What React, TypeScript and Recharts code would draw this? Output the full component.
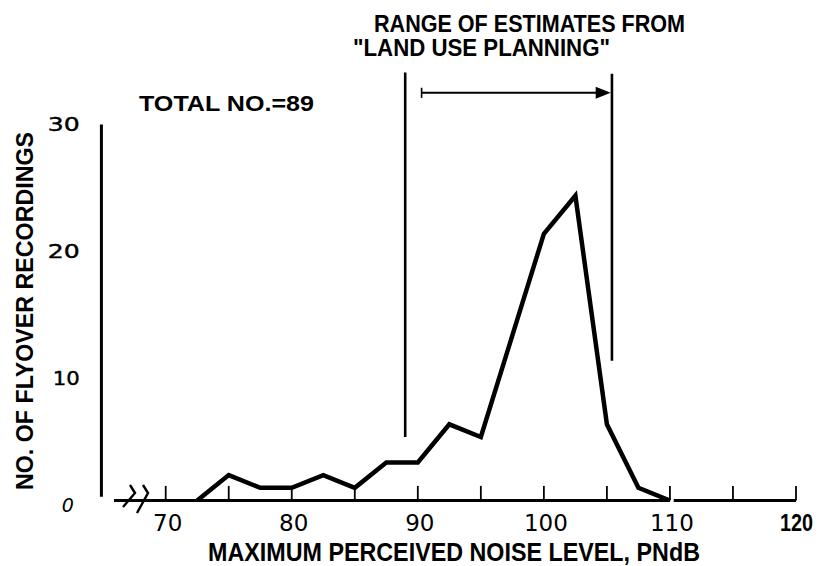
import React from 'react';
import { ComposedChart, Line, XAxis, YAxis, ReferenceLine, ReferenceDot } from 'recharts';

// noise level classes (PNdB) and number of flyover recordings in each
const levels = [72.5, 75, 77.5, 80, 82.5, 85, 87.5, 90, 92.5, 95, 97.5, 100, 102.5, 105, 107.5, 110];
const counts = [0, 2, 1, 1, 2, 1, 3, 3, 6, 5, 13, 21, 24, 6, 1, 0];

const xLabelTicks = [70, 80, 90, 100, 110, 120];
const xTickMarks = [70, 75, 80, 85, 90, 95, 100, 105, 110, 115, 120];
const yLabelTicks = [0, 10, 20, 30];

// "range of estimates" bracket: [level, bottom, top]
const rangeLow = [89, 5, 33.7];
const rangeHigh = [105.4, 11, 33.6];
// arrow across the range: [from, to, height]
const rangeArrow = [90.3, 105.3, 32.1];

// broken x axis pieces and the y axis
const xAxisPieces = [
  [65.9, 110],
  [110.3, 120],
];
const yAxisAt = 64.9;
const yAxisSpan = [0.3, 29.6];

const FONT = '"Liberation Sans", Arial, Helvetica, sans-serif';
const DIGITS = '"DejaVu Sans", sans-serif';
const data = levels.map((level, i) => ({ level, count: counts[i] }));

const XTick = (props: any) => {
  const { x, y, payload } = props;
  const v = payload.value;
  if (v === 120) {
    return (
      <text x={x - 16} y={y + 30} fontFamily={FONT} fontWeight="bold" fontSize={24}
        textLength={33} lengthAdjust="spacingAndGlyphs" fill="#000">
        {v}
      </text>
    );
  }
  return (
    <text x={x + 2} y={y + 30} textAnchor="middle" fontFamily={DIGITS} fontSize={23} fill="#000">
      {v}
    </text>
  );
};

const YTick = (props: any) => {
  const { x, y, payload } = props;
  const v = payload.value;
  if (v === 0) {
    return (
      <text x={x + 3} y={y + 11} textAnchor="middle" fontFamily={DIGITS} fontStyle="italic" fontSize={19} fill="#000">
        0
      </text>
    );
  }
  const w = v === 10 ? 27 : 32;
  return (
    <text x={x + 15 - w} y={y + 11} fontFamily={DIGITS} fontSize={19}
      textLength={w} lengthAdjust="spacingAndGlyphs" fill="#000" stroke="#000" strokeWidth={0.4}>
      {v}
    </text>
  );
};

const ArrowHead = (props: any) => {
  const { cx, cy } = props;
  return <polygon points={`${cx},${cy} ${cx - 15},${cy - 6} ${cx - 15},${cy + 6}`} fill="#000" />;
};

export default function App() {
  return (
    <div style={{ position: 'absolute', left: 0, top: 0, width: 822, height: 566, background: '#fff' }}>
      <ComposedChart
        width={822}
        height={566}
        data={data}
        margin={{ top: 43.3, right: 0.8, left: 0, bottom: 0 }}
      >
        <XAxis
          dataKey="level"
          type="number"
          domain={[62, 122]}
          allowDataOverflow
          ticks={xLabelTicks}
          tick={<XTick />}
          axisLine={false}
          tickLine={false}
          tickSize={0}
          tickMargin={0}
          height={65.5}
        />
        <YAxis
          type="number"
          domain={[0, 36]}
          allowDataOverflow
          ticks={yLabelTicks}
          tick={<YTick />}
          axisLine={false}
          tickLine={false}
          tickSize={0}
          tickMargin={0}
          width={64.85}
        />

        {xAxisPieces.map(([a, b], i) => (
          <ReferenceLine key={'ax' + i} segment={[{ x: a, y: 0 }, { x: b, y: 0 }]} stroke="#000" strokeWidth={3} ifOverflow="visible" />
        ))}
        <ReferenceLine
          segment={[{ x: yAxisAt, y: yAxisSpan[0] }, { x: yAxisAt, y: yAxisSpan[1] }]}
          stroke="#000"
          strokeWidth={3}
          ifOverflow="visible"
        />
        {xTickMarks.map((t) => (
          <ReferenceLine key={'t' + t} segment={[{ x: t, y: 0 }, { x: t, y: 1.15 }]} stroke="#000" strokeWidth={1.8} ifOverflow="visible" />
        ))}

        <ReferenceLine
          segment={[{ x: rangeLow[0], y: rangeLow[1] }, { x: rangeLow[0], y: rangeLow[2] }]}
          stroke="#000"
          strokeWidth={2.6}
          ifOverflow="visible"
        />
        <ReferenceLine
          segment={[{ x: rangeHigh[0], y: rangeHigh[1] }, { x: rangeHigh[0], y: rangeHigh[2] }]}
          stroke="#000"
          strokeWidth={2.6}
          ifOverflow="visible"
        />
        <ReferenceLine
          segment={[{ x: rangeArrow[0], y: rangeArrow[2] }, { x: rangeArrow[1] - 1, y: rangeArrow[2] }]}
          stroke="#000"
          strokeWidth={2}
          ifOverflow="visible"
        />
        <ReferenceLine
          segment={[{ x: rangeArrow[0], y: rangeArrow[2] - 0.4 }, { x: rangeArrow[0], y: rangeArrow[2] + 0.4 }]}
          stroke="#000"
          strokeWidth={1.6}
          ifOverflow="visible"
        />
        <ReferenceDot x={rangeArrow[1]} y={rangeArrow[2]} r={6} shape={<ArrowHead />} ifOverflow="visible" />

        <Line
          dataKey="count"
          type="linear"
          stroke="#000"
          strokeWidth={4.5}
          strokeLinejoin="miter"
          dot={false}
          activeDot={false}
          isAnimationActive={false}
        />
      </ComposedChart>

      <svg width={822} height={566} style={{ position: 'absolute', left: 0, top: 0, pointerEvents: 'none' }}>
        <g fontFamily={FONT} fontWeight="bold" fill="#000">
          <text x={374} y={32} fontSize={23} textLength={311} lengthAdjust="spacingAndGlyphs">
            RANGE OF ESTIMATES FROM
          </text>
          <text x={353} y={56} fontSize={23} textLength={257} lengthAdjust="spacingAndGlyphs">
            "LAND USE PLANNING"
          </text>
          <text x={139} y={111} fontSize={22} textLength={175} lengthAdjust="spacingAndGlyphs">
            TOTAL NO.=89
          </text>
          <text x={208} y={561} fontSize={25} textLength={492} lengthAdjust="spacingAndGlyphs">
            MAXIMUM PERCEIVED NOISE LEVEL, PNdB
          </text>
          <text
            x={16.5}
            y={311}
            fontSize={23}
            textLength={358}
            lengthAdjust="spacingAndGlyphs"
            transform="rotate(-90 33 311) translate(-162.5 0)"
            dx={0}
          >
            NO. OF FLYOVER RECORDINGS
          </text>
        </g>
        <g fill="none" stroke="#000" strokeWidth={2.4}>
          <polyline points="130,485 135,493 123,507" />
          <polyline points="143,485 148,493 137,513" />
        </g>
      </svg>
    </div>
  );
}
